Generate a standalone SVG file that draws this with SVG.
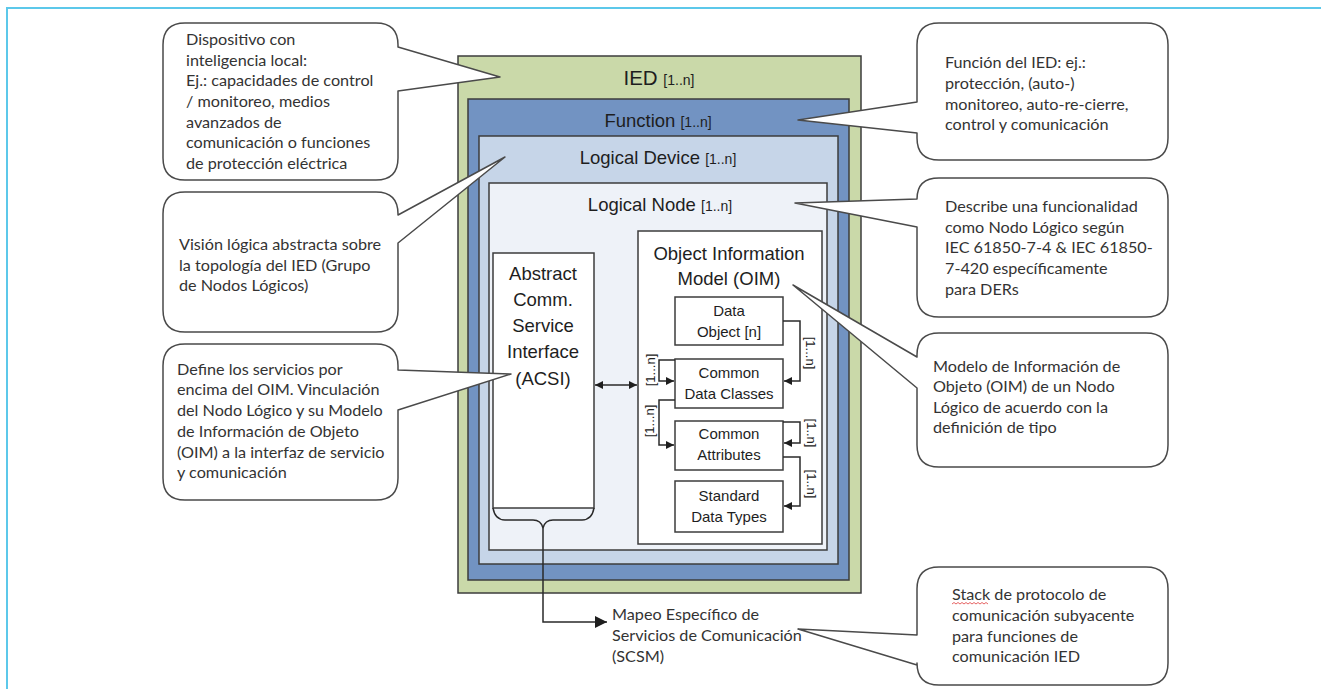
<svg xmlns="http://www.w3.org/2000/svg" width="1328" height="689" viewBox="0 0 1328 689">
<style>
.frame{fill:none;stroke:#5cc8ea;stroke-width:2}
.box{stroke:#3c3c3c;stroke-width:1.5}
.ttl{font-family:"Liberation Sans",Arial,sans-serif;font-size:18.5px;fill:#1e1e1e;text-anchor:middle}
.mul{font-size:14px}
.in{font-family:"Liberation Sans",Arial,sans-serif;font-size:15px;fill:#1e1e1e;text-anchor:middle}
.lbl{font-family:"Liberation Sans",Arial,sans-serif;font-size:13px;fill:#222;text-anchor:middle;dominant-baseline:central}
.co{fill:#fff;stroke:#4a4a4a;stroke-width:1.5;stroke-linejoin:round}
.ct{font-family:Lato,"Liberation Sans",sans-serif;font-size:16.2px;fill:#333}
.cn{fill:none;stroke:#2a2a2a;stroke-width:1.5}
</style>
<defs>
<marker id="ah" viewBox="0 0 10 10" refX="10" refY="5" markerWidth="9" markerHeight="8" markerUnits="userSpaceOnUse" orient="auto-start-reverse">
<path d="M0,0 L10,5 L0,10 z" fill="#1e1e1e"/>
</marker>
<marker id="ahb" viewBox="0 0 10 10" refX="10" refY="5" markerWidth="15" markerHeight="12" markerUnits="userSpaceOnUse" orient="auto">
<path d="M0,0 L10,5 L0,10 z" fill="#1e1e1e"/>
</marker>
</defs>
<rect width="1328" height="689" fill="#fff"/>
<path class="frame" d="M7,689 V8 H1321"/>

<g id="ied">
<rect class="box" x="458" y="56" width="403" height="537" fill="#cad9a9"/>
<text class="ttl" x="659" y="85" style="font-size:20.5px">IED <tspan class="mul">[1..n]</tspan></text>
</g>
<g id="function">
<rect class="box" x="468" y="99" width="381" height="481" fill="#7293c2"/>
<text class="ttl" x="658" y="127">Function <tspan class="mul">[1..n]</tspan></text>
</g>
<g id="logical-device">
<rect class="box" x="479" y="136" width="359" height="428" fill="#c6d5e8"/>
<text class="ttl" x="658" y="164">Logical Device <tspan class="mul">[1..n]</tspan></text>
</g>
<g id="logical-node">
<rect class="box" x="489" y="183" width="338" height="367" fill="#eef2f8"/>
<text class="ttl" x="660" y="211">Logical Node <tspan class="mul">[1..n]</tspan></text>
</g>
<g id="acsi">
<rect class="box" x="493" y="253" width="101" height="255" fill="#fff"/>
<path class="cn" d="M493,508 Q495,520 505,520 H533 Q541,520 543,528 Q545,520 553,520 H582 Q592,520 594,508"/>
<text class="ttl" x="543" y="280">Abstract</text>
<text class="ttl" x="543" y="306">Comm.</text>
<text class="ttl" x="543" y="332">Service</text>
<text class="ttl" x="543" y="358">Interface</text>
<text class="ttl" x="543" y="385">(ACSI)</text>
</g>
<g id="oim">
<rect class="box" x="638" y="231" width="184" height="313" fill="#fff"/>
<text class="ttl" x="729" y="260">Object Information</text>
<text class="ttl" x="729" y="285">Model (OIM)</text>
</g>
<g id="data-object">
<rect class="box" x="675" y="297" width="108" height="48" fill="#fff"/>
<text class="in" x="729" y="316">Data</text>
<text class="in" x="729" y="337">Object [n]</text>
</g>
<g id="common-data-classes">
<rect class="box" x="675" y="359" width="108" height="49" fill="#fff"/>
<text class="in" x="729" y="378">Common</text>
<text class="in" x="729" y="399">Data Classes</text>
</g>
<g id="common-attributes">
<rect class="box" x="675" y="421" width="108" height="49" fill="#fff"/>
<text class="in" x="729" y="439">Common</text>
<text class="in" x="729" y="460">Attributes</text>
</g>
<g id="standard-data-types">
<rect class="box" x="675" y="481" width="108" height="51" fill="#fff"/>
<text class="in" x="729" y="501">Standard</text>
<text class="in" x="729" y="522">Data Types</text>
</g>
<g id="scsm">
<text class="ct" x="612" y="620">Mapeo Específico de</text>
<text class="ct" x="612" y="641">Servicios de Comunicación</text>
<text class="ct" x="612" y="662">(SCSM)</text>
</g>

<g id="connectors">
<path class="cn" d="M783,321 H800 V381 H784" marker-end="url(#ah)"/>
<path class="cn" d="M675,360 H659 V381 H674" marker-end="url(#ah)"/>
<path class="cn" d="M675,400 H659 V445 H674" marker-end="url(#ah)"/>
<path class="cn" d="M783,422 H800 V443 H784" marker-end="url(#ah)"/>
<path class="cn" d="M783,457 H800 V506 H784" marker-end="url(#ah)"/>
<path class="cn" d="M595,385 H637" marker-start="url(#ah)" marker-end="url(#ah)"/>
<path class="cn" d="M543,528 V622 H607" marker-end="url(#ahb)"/>
<text class="lbl" transform="translate(810,353) rotate(90)">[1...n]</text>
<text class="lbl" transform="translate(650,370) rotate(-90)">[1...n]</text>
<text class="lbl" transform="translate(649,421) rotate(-90)">[1...n]</text>
<text class="lbl" transform="translate(811,433) rotate(90)">[1..n]</text>
<text class="lbl" transform="translate(811,484) rotate(90)">[1..n]</text>
</g>

<g id="callout-dispositivo">
<path class="co" d="M185,23 H376 Q398,23 398,45 V47 L500,77 L398,91 V158 Q398,180 376,180 H185 Q163,180 163,158 V45 Q163,23 185,23 Z"/>
<text class="ct" x="186" y="45">Dispositivo con</text>
<text class="ct" x="186" y="66">inteligencia local:</text>
<text class="ct" x="186" y="86">Ej.: capacidades de control</text>
<text class="ct" x="186" y="107">/ monitoreo, medios</text>
<text class="ct" x="186" y="128">avanzados de</text>
<text class="ct" x="186" y="148">comunicación o funciones</text>
<text class="ct" x="186" y="169">de protección eléctrica</text>
</g>
<g id="callout-vision">
<path class="co" d="M185,192 H376 Q398,192 398,214 V215 L505,157 L398,243 V310 Q398,332 376,332 H185 Q163,332 163,310 V214 Q163,192 185,192 Z"/>
<text class="ct" x="179" y="250">Visión lógica abstracta sobre</text>
<text class="ct" x="179" y="271">la topología del IED (Grupo</text>
<text class="ct" x="179" y="291">de Nodos Lógicos)</text>
</g>
<g id="callout-define">
<path class="co" d="M185,344 H376 Q398,344 398,366 V370 L511,374 L398,410 V478 Q398,500 376,500 H185 Q163,500 163,478 V366 Q163,344 185,344 Z"/>
<text class="ct" x="177" y="375">Define los servicios por</text>
<text class="ct" x="177" y="395">encima del OIM. Vinculación</text>
<text class="ct" x="177" y="416">del Nodo Lógico y su Modelo</text>
<text class="ct" x="177" y="437">de Información de Objeto</text>
<text class="ct" x="177" y="458">(OIM) a la interfaz de servicio</text>
<text class="ct" x="177" y="478">y comunicación</text>
</g>
<g id="callout-funcion">
<path class="co" d="M939,23 H1146 Q1168,23 1168,45 V138 Q1168,160 1146,160 H939 Q917,160 917,138 V133 L798,120 L917,102 V45 Q917,23 939,23 Z"/>
<text class="ct" x="945" y="68">Función del IED: ej.:</text>
<text class="ct" x="945" y="89">protección, (auto-)</text>
<text class="ct" x="945" y="110">monitoreo, auto-re-cierre,</text>
<text class="ct" x="945" y="130">control y comunicación</text>
</g>
<g id="callout-describe">
<path class="co" d="M939,178 H1146 Q1168,178 1168,200 V295 Q1168,317 1146,317 H939 Q917,317 917,295 V227 L795,203 L917,199 Q917,178 939,178 Z"/>
<text class="ct" x="945" y="212">Describe una funcionalidad</text>
<text class="ct" x="945" y="233">como Nodo Lógico según</text>
<text class="ct" x="945" y="253">IEC 61850-7-4 &amp; IEC 61850-</text>
<text class="ct" x="945" y="274">7-420 específicamente</text>
<text class="ct" x="945" y="295">para DERs</text>
</g>
<g id="callout-modelo">
<path class="co" d="M939,333 H1146 Q1168,333 1168,355 V445 Q1168,467 1146,467 H939 Q917,467 917,445 V388 L793,285 L917,357 V355 Q917,333 939,333 Z"/>
<text class="ct" x="933" y="372">Modelo de Información de</text>
<text class="ct" x="933" y="392">Objeto (OIM) de un Nodo</text>
<text class="ct" x="933" y="413">Lógico de acuerdo con la</text>
<text class="ct" x="933" y="433">definición de tipo</text>
</g>
<g id="callout-stack">
<path class="co" d="M939,567 H1146 Q1168,567 1168,589 V663 Q1168,685 1146,685 H939 Q917,685 917,663 V665 L798,629 L917,635 V589 Q917,567 939,567 Z"/>
<text class="ct" x="952" y="600">Stack de protocolo de</text>
<text class="ct" x="952" y="621">comunicación subyacente</text>
<text class="ct" x="952" y="642">para funciones de</text>
<text class="ct" x="952" y="662">comunicación IED</text>
<path d="M952,604 l2,-1.5 l2,1.5 l2,-1.5 l2,1.5 l2,-1.5 l2,1.5 l2,-1.5 l2,1.5 l2,-1.5 l2,1.5 l2,-1.5 l2,1.5 l2,-1.5 l2,1.5 l2,-1.5 l2,1.5 l2,-1.5 l2,1.5" fill="none" stroke="#e03c3c" stroke-width="0.8"/>
</g>
</svg>
